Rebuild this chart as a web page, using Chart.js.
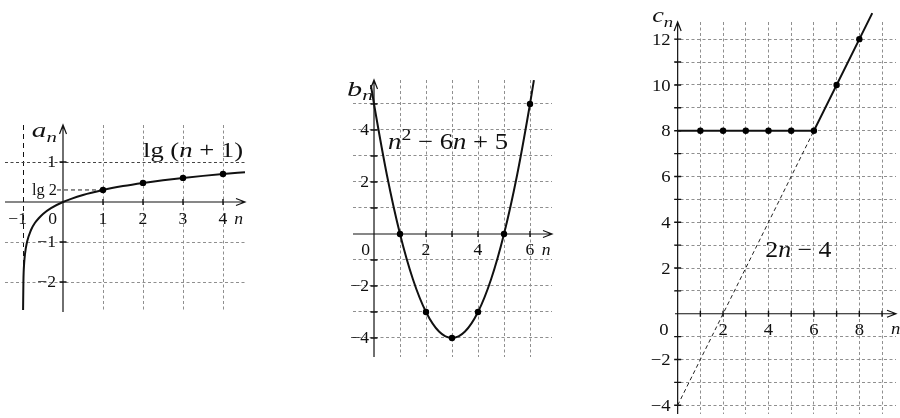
<!DOCTYPE html>
<html>
<head>
<meta charset="utf-8">
<script src="https://cdn.jsdelivr.net/npm/chart.js@4.4.1/dist/chart.umd.min.js"></script>
<style>
  html, body { margin: 0; padding: 0; background: #fff; }
  #lienzo { position: relative; width: 900px; height: 418px; overflow: hidden; }
  #lienzo canvas { position: absolute; left: 0; top: 0; }
</style>
</head>
<body>
<div id="lienzo">
  <canvas id="graficoA" width="900" height="418"></canvas>
  <canvas id="graficoB" width="900" height="418"></canvas>
  <canvas id="graficoC" width="900" height="418"></canvas>
</div>
<script>
// a_n = lg(n+1)
const nA = [1, 2, 3, 4];
const valoresA = [0.301, 0.477, 0.602, 0.699];
const curvaAn = [-0.998, -0.99, -0.97, -0.95, -0.9, -0.8, -0.7, -0.6, -0.5, -0.3, 0, 0.5, 1, 1.5, 2, 2.5, 3, 3.5, 4, 4.55];
const curvaAv = [-2.7, -2, -1.52, -1.3, -1, -0.7, -0.52, -0.4, -0.3, -0.155, 0, 0.176, 0.301, 0.398, 0.477, 0.544, 0.602, 0.653, 0.699, 0.744];
const rejillaAx = [-1, 1, 2, 3, 4];
const rejillaAy = [1, -1, -2];
const ticksAx = [-1, 0, 1, 2, 3, 4];
const etiquetasAx = ['−1', '0', '1', '2', '3', '4'];
const ticksAy = [1, -1, -2];
const etiquetasAy = ['1', '−1', '−2'];

// b_n = n^2 - 6n + 5
const nB = [1, 2, 3, 4, 5, 6];
const valoresB = [0, -3, -4, -3, 0, 5];
const curvaBn = [-0.12, 0, 0.5, 1, 1.5, 2, 2.5, 3, 3.5, 4, 4.5, 5, 5.5, 6, 6.15];
const curvaBv = [5.73, 5, 2.25, 0, -1.75, -3, -3.75, -4, -3.75, -3, -1.75, 0, 2.25, 5, 5.92];
const rejillaBx = [1, 2, 3, 4, 5, 6];
const rejillaBy = [-4, -3, -2, -1, 1, 2, 3, 4, 5];
const ticksBx = [0, 2, 4, 6];
const etiquetasBx = ['0', '2', '4', '6'];
const ticksBy = [4, 2, -2, -4];
const etiquetasBy = ['4', '2', '−2', '−4'];

// c_n = max(8, 2n - 4)
const nC = [1, 2, 3, 4, 5, 6, 7, 8];
const valoresC = [8, 8, 8, 8, 8, 8, 10, 12];
const tramoCn = [0, 6, 8.57];
const tramoCv = [8, 8, 13.14];
const rectaCn = [0, 6];
const rectaCv = [-4, 8];
const rejillaCx = [1, 2, 3, 4, 5, 6, 7, 8, 9];
const rejillaCy = [-4, -3, -2, -1, 1, 2, 3, 4, 5, 6, 7, 8, 9, 10, 11, 12];
const ticksCx = [0, 2, 4, 6, 8];
const etiquetasCx = ['0', '2', '4', '6', '8'];
const ticksCy = [12, 10, 8, 6, 4, 2, -2, -4];
const etiquetasCy = ['12', '10', '8', '6', '4', '2', '−2', '−4'];

const serif = '"Liberation Serif", "DejaVu Serif", serif';
const gris = '#8f8f8f';

const puntos = (xs, ys) => xs.map((v, i) => ({ x: v, y: ys[i] }));

// texto con cursiva, subíndices y superíndices; "ancho" fija el ancho final
function escribir(ctx, partes, x, y, tam, alinear, ancho) {
  const estilos = {
    r: { f: tam + 'px ' + serif, dy: 0 },
    i: { f: 'italic ' + tam + 'px ' + serif, dy: 0 },
    sub: { f: 'italic ' + Math.round(tam * 0.72) + 'px ' + serif, dy: tam * 0.22 },
    sup: { f: Math.round(tam * 0.72) + 'px ' + serif, dy: -tam * 0.4 }
  };
  let natural = 0;
  partes.forEach(([t, e]) => { ctx.font = estilos[e].f; natural += ctx.measureText(t).width; });
  const sx = ancho ? ancho / natural : 1.1;
  const total = natural * sx;
  const xi = alinear === 'right' ? x - total : alinear === 'center' ? x - total / 2 : x;
  ctx.save();
  ctx.translate(xi, y + tam * 0.34);
  ctx.scale(sx, 1);
  ctx.textAlign = 'left';
  ctx.textBaseline = 'alphabetic';
  let cx = 0;
  partes.forEach(([t, e]) => {
    ctx.font = estilos[e].f;
    ctx.fillText(t, cx, estilos[e].dy);
    cx += ctx.measureText(t).width;
  });
  ctx.restore();
}

// ejes con flecha, marcas y rótulos
function crearEjes(conf) {
  return {
    id: 'ejes',
    beforeDatasetsDraw(chart) {
      const { ctx, chartArea: a, scales: { x, y } } = chart;
      const x0 = x.getPixelForValue(0), y0 = y.getPixelForValue(0);
      ctx.save();
      ctx.strokeStyle = '#111';
      ctx.lineWidth = 1.2;
      ctx.beginPath();
      ctx.moveTo(a.left, y0); ctx.lineTo(a.right, y0);
      ctx.moveTo(x0, a.bottom); ctx.lineTo(x0, a.top);
      ctx.moveTo(a.right - 9, y0 - 3.5); ctx.lineTo(a.right, y0); ctx.lineTo(a.right - 9, y0 + 3.5);
      ctx.moveTo(x0 - 3.5, a.top + 9); ctx.lineTo(x0, a.top); ctx.lineTo(x0 + 3.5, a.top + 9);
      ctx.stroke();
      ctx.lineWidth = 1.4;
      ctx.beginPath();
      conf.marcasX.forEach(v => { const p = x.getPixelForValue(v); ctx.moveTo(p, y0 - 3); ctx.lineTo(p, y0 + 3); });
      conf.marcasY.forEach(v => { const p = y.getPixelForValue(v); ctx.moveTo(x0 - 3.5, p); ctx.lineTo(x0 + 3.5, p); });
      ctx.stroke();
      ctx.restore();
    },
    afterDatasetsDraw(chart) {
      const { ctx, scales: { x, y } } = chart;
      const x0 = x.getPixelForValue(0), y0 = y.getPixelForValue(0);
      const t = conf.tam;
      ctx.save();
      ctx.fillStyle = '#111';
      conf.ticksX.forEach((v, i) => {
        const p = x.getPixelForValue(v);
        const ty = y0 + conf.bajaX;
        const texto = [[conf.etiquetasX[i], 'r']];
        if (v === 0) escribir(ctx, texto, x0 - conf.dxCero, ty, t, 'right');
        else if (v < 0) escribir(ctx, texto, p + conf.dxNeg, ty, t, 'right');
        else escribir(ctx, texto, p, ty, t, 'center');
      });
      conf.ticksY.forEach((v, i) => {
        escribir(ctx, [[conf.etiquetasY[i], 'r']], x0 - conf.dxY, y.getPixelForValue(v), t, 'right');
      });
      conf.textos.forEach(o => {
        escribir(ctx, o.partes, x.getPixelForValue(o.x), y.getPixelForValue(o.y), o.tam, o.alinear || 'left', o.ancho);
      });
      ctx.restore();
    }
  };
}

function escala(min, max, rejilla, color, guion) {
  return {
    type: 'linear', min: min, max: max,
    afterBuildTicks: s => { s.ticks = rejilla.map(v => ({ value: v })); },
    afterFit: s => { if (s.isHorizontal()) s.height = 0; else s.width = 0; },
    ticks: { display: false },
    grid: { color: color, lineWidth: 1, drawTicks: false },
    border: { display: false, dash: guion }
  };
}

function opciones(area, sx, sy) {
  return {
    responsive: false,
    animation: false,
    events: [],
    layout: { padding: { left: area[0], top: area[1], right: 900 - area[2], bottom: 418 - area[3] } },
    plugins: { legend: { display: false }, tooltip: { enabled: false } },
    scales: { x: sx, y: sy }
  };
}

function puntosSet(xs, ys) {
  return { data: puntos(xs, ys), showLine: false, pointRadius: 3.2, pointBackgroundColor: '#000', pointBorderWidth: 0, clip: false };
}
function curvaSet(xs, ys, modo) {
  return { data: puntos(xs, ys), borderColor: '#111', borderWidth: 2, pointRadius: 0, cubicInterpolationMode: modo, clip: false };
}

// gráfico a_n
new Chart(document.getElementById('graficoA'), {
  type: 'line',
  data: {
    datasets: [
      puntosSet(nA, valoresA),
      curvaSet(curvaAn, curvaAv, 'monotone'),
      { data: puntos([-0.15, nA[0]], [valoresA[0], valoresA[0]]), borderColor: '#222', borderWidth: 1, borderDash: [4, 3], pointRadius: 0 }
    ]
  },
  options: opciones([5, 125, 245, 312],
    escala(-1.45, 4.55, rejillaAx, c => c.tick.value === -1 ? '#111' : gris, c => c.tick.value === -1 ? [5, 4] : [3, 2.5]),
    escala(-2.75, 1.925, rejillaAy, c => c.tick.value === 1 ? '#444' : gris, [3, 2.5])),
  plugins: [crearEjes({
    marcasX: [1, 2, 3, 4], marcasY: [1, -1, -2],
    ticksX: ticksAx, etiquetasX: etiquetasAx, ticksY: ticksAy, etiquetasY: etiquetasAy,
    tam: 16, bajaX: 17, dxCero: 6, dxNeg: 4, dxY: 7,
    textos: [
      { partes: [['n', 'i']], x: 4.28, y: -0.42, tam: 16 },
      { partes: [['lg 2', 'r']], x: -0.15, y: 0.301, tam: 16, alinear: 'right', ancho: 25 },
      { partes: [['a', 'i'], ['n', 'sub']], x: -0.78, y: 1.8, tam: 21, ancho: 25 },
      { partes: [['lg (', 'r'], ['n', 'i'], [' + 1)', 'r']], x: 2.0, y: 1.3, tam: 21, ancho: 100 }
    ]
  })]
});

// gráfico b_n
new Chart(document.getElementById('graficoB'), {
  type: 'line',
  data: {
    datasets: [
      puntosSet(nB, valoresB),
      curvaSet(curvaBn, curvaBv, 'monotone')
    ]
  },
  options: opciones([353, 80, 552, 357],
    escala(-0.808, 6.846, rejillaBx, gris, [3, 2.5]),
    escala(-4.731, 5.923, rejillaBy, gris, [3, 2.5])),
  plugins: [crearEjes({
    marcasX: [1, 2, 3, 4, 5, 6], marcasY: rejillaBy,
    ticksX: ticksBx, etiquetasX: etiquetasBx, ticksY: ticksBy, etiquetasY: etiquetasBy,
    tam: 16, bajaX: 16, dxCero: 4, dxNeg: 0, dxY: 5,
    textos: [
      { partes: [['n', 'i']], x: 6.45, y: -0.6, tam: 16 },
      { partes: [['b', 'i'], ['n', 'sub']], x: -1.04, y: 5.6, tam: 21, ancho: 26 },
      { partes: [['n', 'i'], ['2', 'sup'], [' − 6', 'r'], ['n', 'i'], [' + 5', 'r']], x: 0.54, y: 3.58, tam: 23, ancho: 120 }
    ]
  })]
});

// gráfico c_n
new Chart(document.getElementById('graficoC'), {
  type: 'line',
  data: {
    datasets: [
      puntosSet(nC, valoresC),
      curvaSet(tramoCn, tramoCv, 'default'),
      { data: puntos(rectaCn, rectaCv), borderColor: '#222', borderWidth: 1, borderDash: [4, 3], pointRadius: 0 }
    ]
  },
  options: opciones([675, 22, 900, 418],
    escala(-0.117, 9.615, rejillaCx, gris, [3, 2.5]),
    escala(-4.38, 12.75, rejillaCy, gris, [3, 2.5])),
  plugins: [crearEjes({
    marcasX: rejillaCx, marcasY: rejillaCy,
    ticksX: ticksCx, etiquetasX: etiquetasCx, ticksY: ticksCy, etiquetasY: etiquetasCy,
    tam: 17, bajaX: 15, dxCero: 9, dxNeg: 0, dxY: 7,
    textos: [
      { partes: [['n', 'i']], x: 9.4, y: -0.65, tam: 17 },
      { partes: [['c', 'i'], ['n', 'sub']], x: -1.12, y: 13.05, tam: 21, ancho: 21 },
      { partes: [['2', 'r'], ['n', 'i'], [' − 4', 'r']], x: 3.86, y: 2.84, tam: 23, ancho: 66 }
    ]
  })]
});
</script>
</body>
</html>
